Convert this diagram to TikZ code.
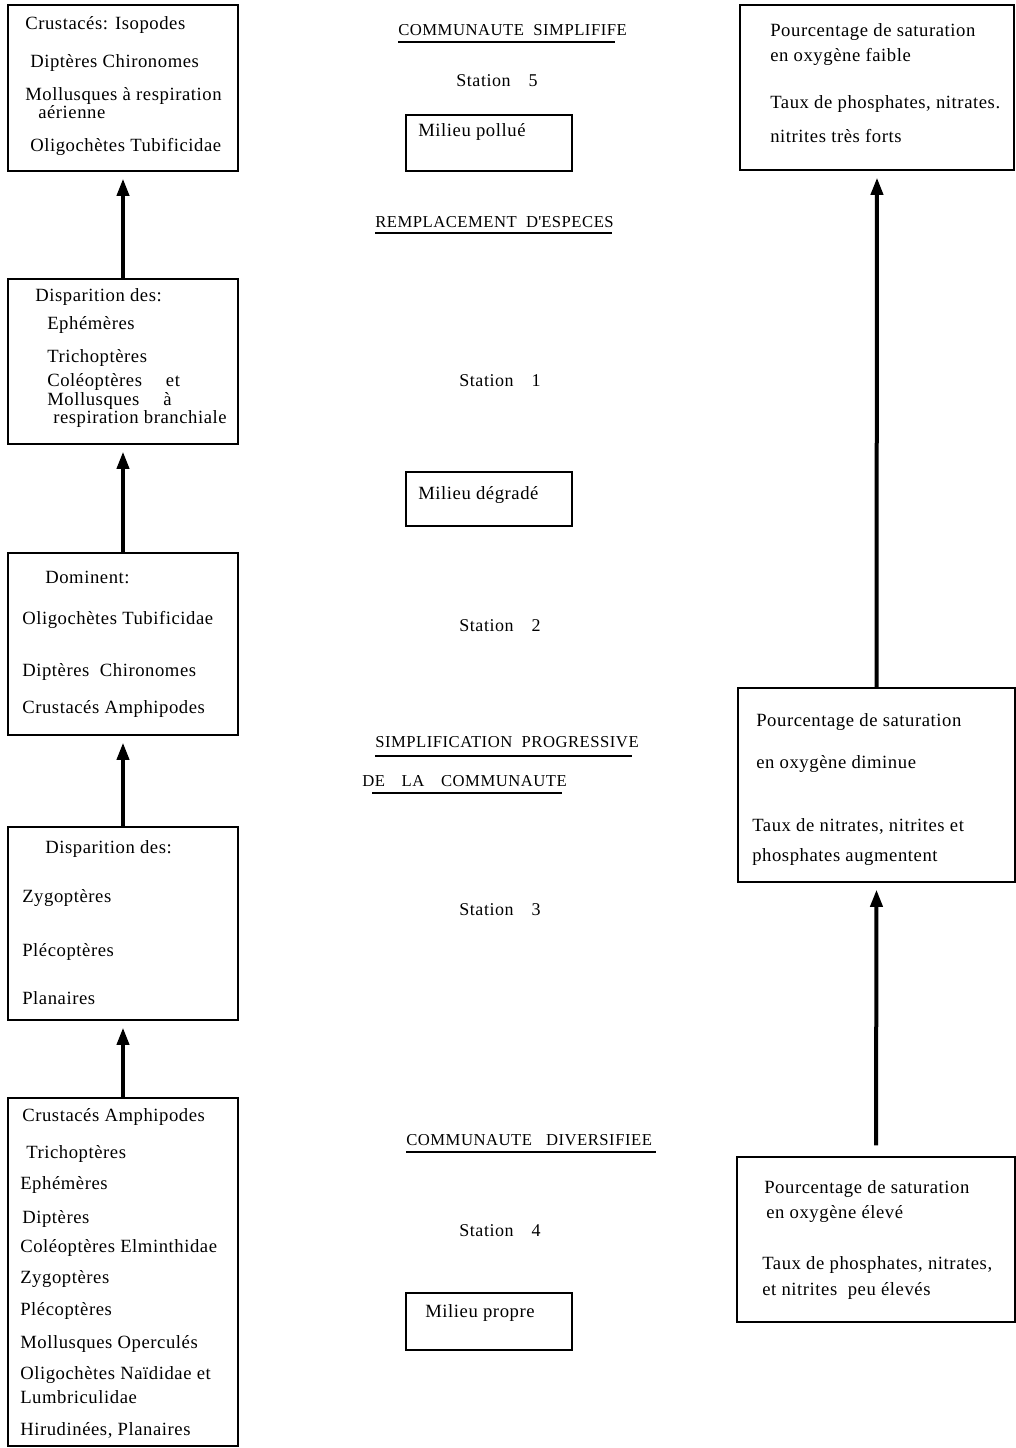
\documentclass[tikz,border=0pt]{standalone}
\usepackage{fontspec}
\setmainfont{Liberation Serif}[LetterSpace=3]
\usetikzlibrary{fit,arrows.meta}
\begin{document}
\begin{tikzpicture}[x=0.75pt,y=-0.75pt,
  box/.style={draw,line width=1.4pt,inner sep=0pt},
  lbl/.style={anchor=west,inner sep=0pt,font=\fontsize{14}{14}\selectfont},
  ctr/.style={anchor=center,inner sep=0pt,font=\fontsize{13.5}{13.5}\selectfont},
  ttl/.style={anchor=west,inner sep=0pt,font=\fontsize{12.5}{12.5}\selectfont},
  uline/.style={line width=1.1pt},
  arr/.style={line width=3pt,-{Triangle[length=13pt,width=9pt]},shorten >=5pt}]
\useasboundingbox (0,0) rectangle (1016,1448);
% left column boxes
\node[box,fit={(8,5) (238,171)}] (A) {};
\node[box,fit={(8,279) (238,444)}] (B) {};
\node[box,fit={(8,553) (238,735)}] (C) {};
\node[box,fit={(8,827) (238,1020)}] (D) {};
\node[box,fit={(8,1098) (238,1446)}] (E) {};
% right column boxes
\node[box,fit={(740,5) (1014,170)}] (R1) {};
\node[box,fit={(738,688) (1015,882)}] (R2) {};
\node[box,fit={(737,1157) (1015,1322)}] (R3) {};
% middle boxes
\node[box,fit={(406,115) (572,171)}] (MP) {};
\node[box,fit={(406,472) (572,526)}] (MD) {};
\node[box,fit={(406,1293) (572,1350)}] (MR) {};
% box A text
\node[lbl] (a1) at (25,25) {Crustacés: Isopodes};
\node[lbl] (a2) at (30,63) {Diptères Chironomes};
\node[lbl] (a3) at (25,96) {Mollusques à respiration};
\node[lbl] (a4) at (38,112) {aérienne};
\node[lbl] (a5) at (30,147) {Oligochètes Tubificidae};
% box B text
\node[lbl] (b1) at (35,297) {Disparition des:};
\node[lbl] (b2) at (47,325) {Ephémères};
\node[lbl] (b3) at (47,358) {Trichoptères};
\node[lbl] (b4) at (47,382) {Coléoptères\quad\ et};
\node[lbl] (b5) at (47,401) {Mollusques\quad\ à};
\node[lbl] (b6) at (53,419) {respiration branchiale};
% box C text
\node[lbl] (c1) at (45,577) {Dominent:};
\node[lbl] (c2) at (22,620) {Oligochètes Tubificidae};
\node[lbl] (c3) at (22,672) {Diptères\ \ Chironomes};
\node[lbl] (c4) at (22,709) {Crustacés Amphipodes};
% box D text
\node[lbl] (d1) at (45,849) {Disparition des:};
\node[lbl] (d2) at (22,898) {Zygoptères};
\node[lbl] (d3) at (22,952) {Plécoptères};
\node[lbl] (d4) at (22,998) {Planaires};
% box E text
\node[lbl] (e1) at (22,1117) {Crustacés Amphipodes};
\node[lbl] (e2) at (26,1154) {Trichoptères};
\node[lbl] (e3) at (20,1185) {Ephémères};
\node[lbl] (e4) at (22,1219) {Diptères};
\node[lbl] (e5) at (20,1248) {Coléoptères Elminthidae};
\node[lbl] (e6) at (20,1279) {Zygoptères};
\node[lbl] (e7) at (20,1311) {Plécoptères};
\node[lbl] (e8) at (20,1344) {Mollusques Operculés};
\node[lbl] (e9) at (20,1375) {Oligochètes Naïdidae et};
\node[lbl] (e10) at (20,1397) {Lumbriculidae};
\node[lbl] (e11) at (20,1430) {Hirudinées, Planaires};
% right box texts
\node[lbl] (r11) at (770,32) {Pourcentage de saturation};
\node[lbl] (r12) at (770,57) {en oxygène faible};
\node[lbl] (r13) at (770,104) {Taux de phosphates, nitrates.};
\node[lbl] (r14) at (770,136) {nitrites très forts};
\node[lbl] (r21) at (756,722) {Pourcentage de saturation};
\node[lbl] (r22) at (756,764) {en oxygène diminue};
\node[lbl] (r23) at (752,826) {Taux de nitrates, nitrites et};
\node[lbl] (r24) at (752,857) {phosphates augmentent};
\node[lbl] (r31) at (764,1189) {Pourcentage de saturation};
\node[lbl] (r32) at (766,1214) {en oxygène élevé};
\node[lbl] (r33) at (762,1265) {Taux de phosphates, nitrates,};
\node[lbl] (r34) at (762,1291) {et nitrites\ \ peu élevés};
% middle box texts
\node[lbl] (mp) at (418,132) {Milieu pollué};
\node[lbl] (md) at (418,495) {Milieu dégradé};
\node[lbl] (mr) at (425,1313) {Milieu propre};
% middle titles and stations
\node[ttl] (t1) at (398,30) {COMMUNAUTE\ \ SIMPLIFIFE};
\draw[uline] (398,42) -- (615,42);
\node[ctr] (s5) at (497,81) {Station\quad 5};
\node[ttl] (t2) at (375,222) {REMPLACEMENT\ \ D\textquotesingle ESPECES};
\draw[uline] (375,233) -- (612,233);
\node[ctr] (s1) at (500,381) {Station\quad 1};
\node[ctr] (s2) at (500,626) {Station\quad 2};
\node[ttl] (t3) at (375,742) {SIMPLIFICATION\ \ PROGRESSIVE};
\draw[uline] (375,756) -- (632,756);
\node[ttl] (t4) at (362,781) {DE\quad LA\quad COMMUNAUTE};
\draw[uline] (372,793) -- (562,793);
\node[ctr] (s3) at (500,910) {Station\quad 3};
\node[ttl] (t5) at (406,1140) {COMMUNAUTE\ \ \ DIVERSIFIEE};
\draw[uline] (406,1152) -- (656,1152);
\node[ctr] (s4) at (500,1231) {Station\quad 4};
% arrows
\draw[arr] (B.north) -- (A.south);
\draw[arr] (C.north) -- (B.south);
\draw[arr] (D.north) -- (C.south);
\draw[arr] (E.north) -- (D.south);
\draw[arr] (R2.north) -- (R1.south);
\draw[arr,shorten <=8pt] (R3.north) -- (R2.south);
\end{tikzpicture}
\end{document}
